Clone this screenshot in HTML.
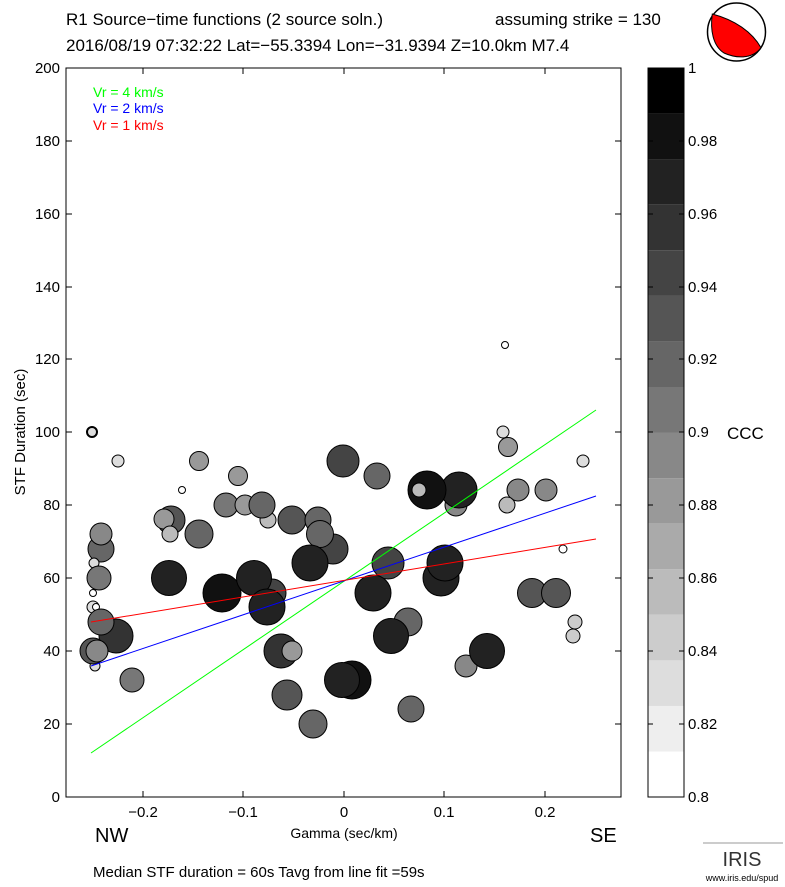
<!DOCTYPE html>
<html><head><style>body{margin:0;background:#fff}svg{display:block}text{font-family:"Liberation Sans",sans-serif}</style></head><body>
<svg width="785" height="887" xmlns="http://www.w3.org/2000/svg">
<text x="66" y="25" font-size="17">R1 Source−time functions (2 source soln.)</text>
<text x="495" y="25" font-size="17">assuming strike = 130</text>
<text x="66" y="51" font-size="17">2016/08/19 07:32:22  Lat=−55.3394 Lon=−31.9394  Z=10.0km  M7.4</text>
<circle cx="736.5" cy="32" r="29" fill="#fff" stroke="#000" stroke-width="1.5"/>
<path d="M712.3,14 C735,20 752,32 761,47.7 C752,60 735,58 724,53 C713,46 710,30 712.3,14 Z" fill="#f00" stroke="#000"/>
<g stroke="#000" stroke-width="1">
<rect x="66" y="68" width="555" height="729" fill="none"/>
</g>
<g stroke="#000" fill="none">
<path d="M66,797h6M66,724h6M66,651h6M66,578h6M66,505h6M66,432h6M66,359h6M66,287h6M66,214h6M66,141h6M66,68h6"/>
<path d="M621,797h-6M621,724h-6M621,651h-6M621,578h-6M621,505h-6M621,432h-6M621,359h-6M621,287h-6M621,214h-6M621,141h-6M621,68h-6"/>
<path d="M143,797v-6M243,797v-6M344,797v-6M444,797v-6M545,797v-6M143,68v6M243,68v6M344,68v6M444,68v6M545,68v6"/>
</g>
<g font-size="15" text-anchor="end">
<text x="60" y="802">0</text><text x="60" y="729">20</text><text x="60" y="656">40</text><text x="60" y="583">60</text><text x="60" y="510">80</text><text x="60" y="437">100</text><text x="60" y="364">120</text><text x="60" y="292">140</text><text x="60" y="219">160</text><text x="60" y="146">180</text><text x="60" y="73">200</text>
</g>
<g font-size="15" text-anchor="middle">
<text x="143" y="817">−0.2</text><text x="243" y="817">−0.1</text><text x="344" y="817">0</text><text x="444" y="817">0.1</text><text x="545" y="817">0.2</text>
</g>
<text x="344" y="838" font-size="14" text-anchor="middle">Gamma (sec/km)</text>
<text x="25" y="432" font-size="15" text-anchor="middle" transform="rotate(-90 25 432)">STF Duration (sec)</text>
<text x="95" y="842" font-size="20">NW</text><text x="590" y="842" font-size="20">SE</text>
<text x="93" y="877" font-size="15">Median STF duration = 60s    Tavg from line fit =59s</text>
<text x="93" y="97" font-size="14" fill="#0f0">Vr = 4 km/s</text>
<text x="93" y="113" font-size="14" fill="#00f">Vr = 2 km/s</text>
<text x="93" y="130" font-size="14" fill="#f00">Vr = 1 km/s</text>
<g stroke="#000" stroke-width="1">
<circle cx="92" cy="432" r="5" fill="#ddd" stroke-width="2"/>
<circle cx="118" cy="461" r="6" fill="#ddd"/>
<circle cx="199" cy="461" r="9.5" fill="#999"/>
<circle cx="238" cy="476" r="9.5" fill="#999"/>
<circle cx="182" cy="490" r="3.5" fill="#fff"/>
<circle cx="226" cy="505" r="12" fill="#777"/>
<circle cx="245" cy="505" r="10" fill="#999"/>
<circle cx="268" cy="520" r="8" fill="#bbb"/>
<circle cx="262" cy="505" r="13" fill="#666"/>
<circle cx="171" cy="520" r="14" fill="#555"/>
<circle cx="164" cy="519" r="10" fill="#999"/>
<circle cx="170" cy="534" r="8" fill="#bbb"/>
<circle cx="199" cy="534" r="14" fill="#666"/>
<circle cx="292" cy="520" r="14" fill="#555"/>
<circle cx="318" cy="520" r="13" fill="#666"/>
<circle cx="333" cy="549" r="15" fill="#444"/>
<circle cx="320" cy="534" r="13.5" fill="#666"/>
<circle cx="310" cy="563" r="18" fill="#222"/>
<circle cx="343" cy="461" r="16" fill="#444"/>
<circle cx="101" cy="549" r="13" fill="#666"/>
<circle cx="101" cy="534" r="11" fill="#888"/>
<circle cx="94" cy="563" r="5" fill="#ddd"/>
<circle cx="99" cy="578" r="12" fill="#777"/>
<circle cx="93" cy="593" r="3.5" fill="#fff"/>
<circle cx="93" cy="607" r="6" fill="#ddd"/>
<circle cx="96" cy="607" r="3.5" fill="#fff"/>
<circle cx="95" cy="666" r="5" fill="#ddd"/>
<circle cx="116" cy="636" r="17" fill="#333"/>
<circle cx="101" cy="622" r="13" fill="#666"/>
<circle cx="93" cy="651" r="13" fill="#555"/>
<circle cx="97" cy="651" r="11" fill="#888"/>
<circle cx="132" cy="680" r="12" fill="#777"/>
<circle cx="169" cy="578" r="17.5" fill="#222"/>
<circle cx="272" cy="593" r="14" fill="#444"/>
<circle cx="222" cy="593" r="19" fill="#111"/>
<circle cx="254" cy="578" r="17.5" fill="#222"/>
<circle cx="267" cy="607" r="18" fill="#222"/>
<circle cx="281" cy="651" r="17" fill="#333"/>
<circle cx="292" cy="651" r="10" fill="#999"/>
<circle cx="287" cy="695" r="15" fill="#555"/>
<circle cx="313" cy="724" r="14" fill="#666"/>
<circle cx="505" cy="345" r="3.5" fill="#fff"/>
<circle cx="503" cy="432" r="6" fill="#ddd"/>
<circle cx="508" cy="447" r="9.5" fill="#999"/>
<circle cx="583" cy="461" r="6" fill="#ddd"/>
<circle cx="377" cy="476" r="13" fill="#666"/>
<circle cx="456" cy="505" r="11" fill="#888"/>
<circle cx="459" cy="490" r="18" fill="#222"/>
<circle cx="427" cy="490" r="19" fill="#111"/>
<circle cx="419" cy="490" r="7" fill="#bbb"/>
<circle cx="518" cy="490" r="11" fill="#888"/>
<circle cx="546" cy="490" r="11" fill="#888"/>
<circle cx="507" cy="505" r="8" fill="#bbb"/>
<circle cx="388" cy="563" r="16" fill="#444"/>
<circle cx="441" cy="578" r="18" fill="#222"/>
<circle cx="445" cy="563" r="18" fill="#222"/>
<circle cx="373" cy="593" r="18" fill="#222"/>
<circle cx="563" cy="549" r="4" fill="#fff"/>
<circle cx="532" cy="593" r="14.5" fill="#555"/>
<circle cx="556" cy="593" r="14.5" fill="#555"/>
<circle cx="575" cy="622" r="7" fill="#ccc"/>
<circle cx="573" cy="636" r="7" fill="#ccc"/>
<circle cx="408" cy="622" r="14" fill="#666"/>
<circle cx="391" cy="636" r="17.5" fill="#222"/>
<circle cx="466" cy="666" r="11" fill="#888"/>
<circle cx="487" cy="651" r="17.5" fill="#222"/>
<circle cx="352" cy="680" r="19" fill="#111"/>
<circle cx="342" cy="680" r="17.5" fill="#222"/>
<circle cx="411" cy="709" r="13" fill="#666"/>
</g>
<line x1="91" y1="753" x2="596" y2="410" stroke="#0f0"/>
<line x1="91" y1="666" x2="596" y2="496" stroke="#00f"/>
<line x1="91" y1="622" x2="596" y2="539" stroke="#f00"/>
<g>
<rect x="648" y="68" width="36" height="45.6" fill="#000"/>
<rect x="648" y="113.6" width="36" height="45.6" fill="#111"/>
<rect x="648" y="159.1" width="36" height="45.6" fill="#222"/>
<rect x="648" y="204.7" width="36" height="45.6" fill="#333"/>
<rect x="648" y="250.3" width="36" height="45.6" fill="#444"/>
<rect x="648" y="295.8" width="36" height="45.6" fill="#555"/>
<rect x="648" y="341.4" width="36" height="45.6" fill="#666"/>
<rect x="648" y="387" width="36" height="45.6" fill="#777"/>
<rect x="648" y="432.5" width="36" height="45.6" fill="#888"/>
<rect x="648" y="478.1" width="36" height="45.6" fill="#999"/>
<rect x="648" y="523.7" width="36" height="45.6" fill="#aaa"/>
<rect x="648" y="569.2" width="36" height="45.6" fill="#bbb"/>
<rect x="648" y="614.8" width="36" height="45.6" fill="#ccc"/>
<rect x="648" y="660.4" width="36" height="45.6" fill="#ddd"/>
<rect x="648" y="705.9" width="36" height="45.6" fill="#eee"/>
<rect x="648" y="751.5" width="36" height="45.5" fill="#fff"/>
<rect x="648" y="68" width="36" height="729" fill="none" stroke="#000"/>
<path d="M684,724h-5M684,651h-5M684,578h-5M684,505h-5M684,432h-5M684,359h-5M684,287h-5M684,214h-5M684,141h-5M648,724h5M648,651h5M648,578h5M648,505h5M648,432h5M648,359h5M648,287h5M648,214h5M648,141h5" stroke="#000"/>
</g>
<g font-size="15">
<text x="688" y="802">0.8</text><text x="688" y="729">0.82</text><text x="688" y="656">0.84</text><text x="688" y="583">0.86</text><text x="688" y="510">0.88</text><text x="688" y="437">0.9</text><text x="688" y="364">0.92</text><text x="688" y="292">0.94</text><text x="688" y="219">0.96</text><text x="688" y="146">0.98</text><text x="688" y="73">1</text>
</g>
<text x="727" y="439" font-size="17">CCC</text>
<path d="M703,843h80" stroke="#999" stroke-width="1"/>
<text x="742" y="866" font-size="20" text-anchor="middle" font-family="Liberation Serif" fill="#333">IRIS</text>
<text x="742" y="881" font-size="9" text-anchor="middle">www.iris.edu/spud</text>
</svg>
</body></html>
